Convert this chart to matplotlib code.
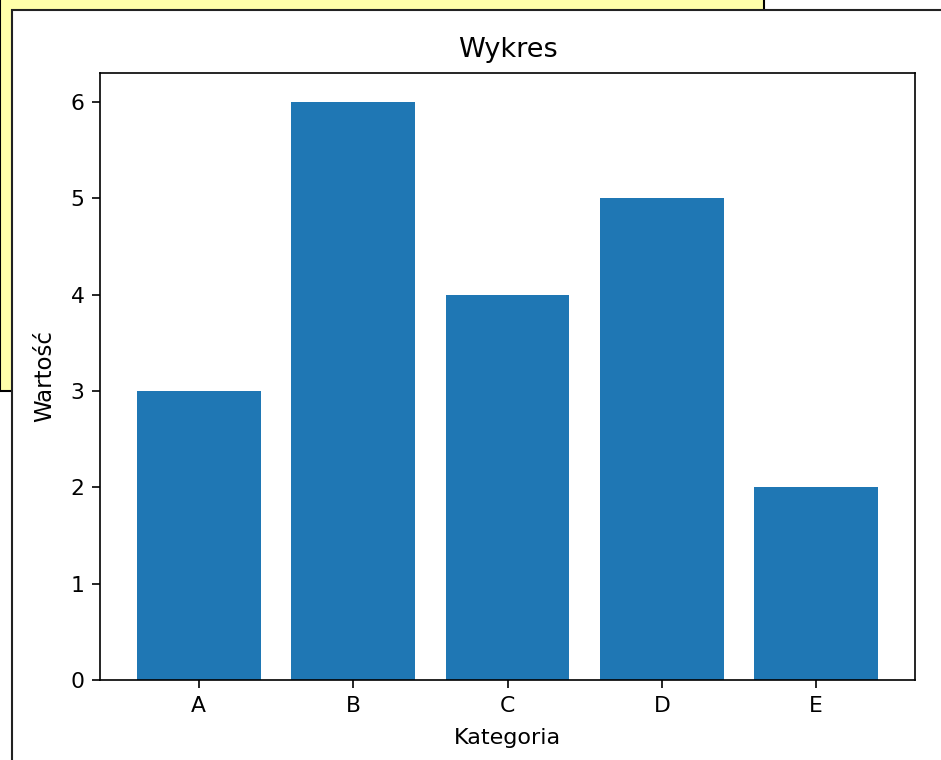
import matplotlib
matplotlib.use("Agg")
import matplotlib.pyplot as plt
from matplotlib.patches import Rectangle

# Dane
kategorie = ['A', 'B', 'C', 'D', 'E']
wartosci = [3, 6, 4, 5, 2]

W, H, DPI = 941, 760, 150
fig = plt.figure(figsize=(W / DPI, H / DPI), dpi=DPI, facecolor='white')

# Tło: żółte okienko pod spodem i białe okno wykresu na wierzchu
fig.add_artist(Rectangle((0, (H - 391) / H), 764 / W, 391 / H + 0.05,
                         transform=fig.transFigure, facecolor='#ffffaa',
                         edgecolor='black', linewidth=1.0, zorder=-3))
fig.add_artist(Rectangle((12 / W, -0.1), 1.0, (H - 10) / H + 0.1,
                         transform=fig.transFigure, facecolor='white',
                         edgecolor='#222222', linewidth=1.0, zorder=-2))

ax = fig.add_axes([100 / W, (H - 680) / H, 815 / W, 607 / H])
ax.set_facecolor('white')
ax.bar(kategorie, wartosci)
ax.tick_params(labelsize=10.5, length=4)
ax.set_xlabel('Kategoria', fontsize=10.7, labelpad=6)
ax.set_ylabel('Wartość', fontsize=11, labelpad=7)
ax.set_title('Wykres', fontsize=13, pad=7.5)

fig.savefig('out.png', dpi=DPI, facecolor='white')
